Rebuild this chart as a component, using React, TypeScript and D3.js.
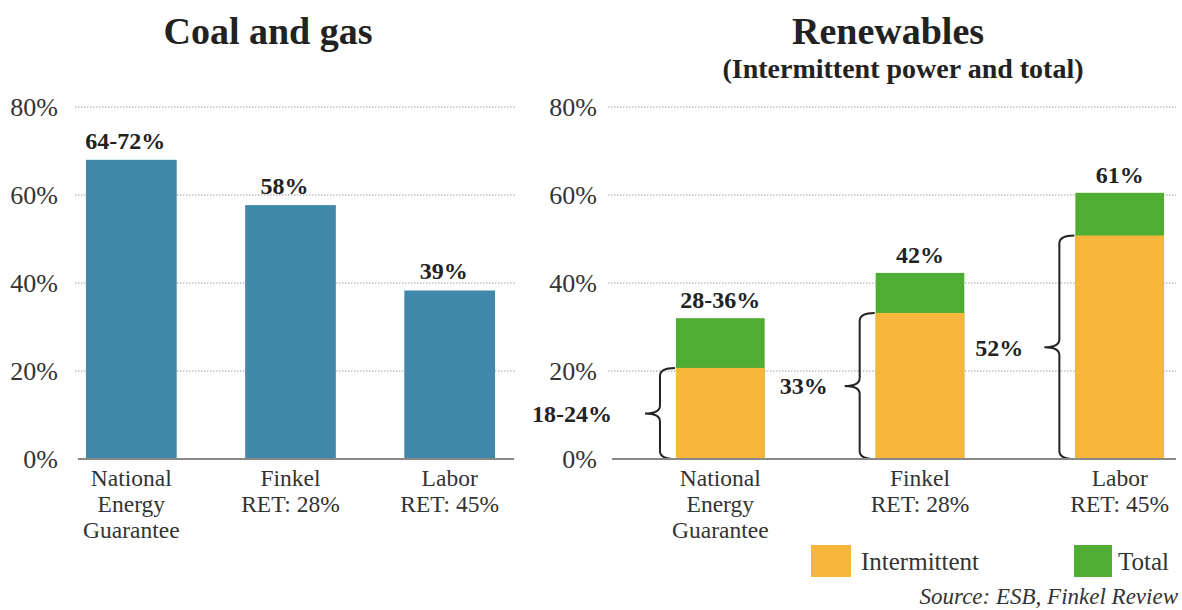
import React from "react";
import * as d3 from "d3";

const categories = ["National Energy Guarantee", "Finkel RET: 28%", "Labor RET: 45%"];
const categoryLines = [["National", "Energy", "Guarantee"], ["Finkel", "RET: 28%"], ["Labor", "RET: 45%"]];
const coalGas = [68, 57.7, 38.3];
const coalGasLabels = ["64-72%", "58%", "39%"];
const renewTotal = [32, 42.3, 60.5];
const renewTotalLabels = ["28-36%", "42%", "61%"];
const renewIntermittent = [20.7, 33.2, 50.8];
const renewIntermittentLabels = ["18-24%", "33%", "52%"];
const yTicks = [0, 20, 40, 60, 80];

const braceLabelGap = [64, 48, 52];

const W = 1182;
const H = 610;
const FONT = "'Liberation Serif', 'Times New Roman', serif";
const BLUE = "#3f88aa";
const YELLOW = "#f8b63a";
const GREEN = "#4fad33";
const TEXT = "#333";

const y = d3.scaleLinear().domain([0, 80]).range([459, 107]);

const xLeft = d3.scaleBand<string>().domain(categories).range([78, 503]).paddingInner(0.43).paddingOuter(0.05);
const xRight = d3.scaleBand<string>().domain(categories).range([660, 1180]).paddingInner(0.556).paddingOuter(0.08);

function bracePath(x: number, yTop: number, yBot: number) {
  const xe = x - 1;
  const xl = x - 16;
  const xp = x - 31;
  const ym = (yTop + yBot) / 2;
  return `M${xe},${yTop} Q${xl},${yTop} ${xl},${yTop + 8} L${xl},${ym - 8} Q${xl},${ym} ${xp},${ym} Q${xl},${ym} ${xl},${ym + 8} L${xl},${yBot - 8} Q${xl},${yBot} ${xe},${yBot}`;
}

function Axis({ x0, x1, labelX }: { x0: number; x1: number; labelX: number }) {
  return (
    <g>
      {yTicks.map((t) => (
        <g key={t}>
          {t > 0 && (
            <line x1={x0} x2={x1} y1={y(t)} y2={y(t)} stroke="#9a9a9a" strokeWidth={1} strokeDasharray="1.5,1.5" />
          )}
          <text x={labelX} y={y(t)} dy="0.35em" textAnchor="end" fontSize={26} fill={TEXT} fontFamily={FONT}>
            {t}%
          </text>
        </g>
      ))}
    </g>
  );
}

function CatLabels({ scale }: { scale: d3.ScaleBand<string> }) {
  return (
    <g>
      {categories.map((c, i) =>
        categoryLines[i].map((ln, j) => (
          <text
            key={c + j}
            x={(scale(c) as number) + scale.bandwidth() / 2}
            y={486 + j * 26}
            textAnchor="middle"
            fontSize={23.5}
            fill={TEXT}
            fontFamily={FONT}
          >
            {ln}
          </text>
        ))
      )}
    </g>
  );
}

export default function App() {
  const bw = xLeft.bandwidth();
  const rbw = xRight.bandwidth();
  return (
    <svg width={W} height={H} style={{ position: "absolute", left: 0, top: 0, background: "#fff" }} fontFamily={FONT}>
      <rect x={0} y={0} width={W} height={H} fill="#fff" />
      {/* Titles */}
      <text x={268} y={44} textAnchor="middle" fontSize={38} fontWeight="bold" fill="#222">
        Coal and gas
      </text>
      <text x={888} y={44} textAnchor="middle" fontSize={38} fontWeight="bold" fill="#222">
        Renewables
      </text>
      <text x={903} y={78} textAnchor="middle" fontSize={28} fontWeight="bold" fill="#222">
        (Intermittent power and total)
      </text>

      {/* Left chart */}
      <Axis x0={75} x1={515} labelX={58} />
      {categories.map((c, i) => (
        <g key={c}>
          <rect x={xLeft(c)} y={y(coalGas[i])} width={bw} height={y(0) - y(coalGas[i])} fill={BLUE} />
          <text
            x={(xLeft(c) as number) + bw / 2 - 6}
            y={y(coalGas[i]) - 11}
            textAnchor="middle"
            fontSize={24}
            fontWeight="bold"
            fill="#222"
          >
            {coalGasLabels[i]}
          </text>
        </g>
      ))}
      <line x1={78} x2={514} y1={y(0)} y2={y(0)} stroke="#888" strokeWidth={2} />
      <CatLabels scale={xLeft} />

      {/* Right chart */}
      <Axis x0={608} x1={1176} labelX={597} />
      {categories.map((c, i) => {
        const x0 = xRight(c) as number;
        const yT = y(renewIntermittent[i]);
        return (
          <g key={c}>
            <rect x={x0} y={y(renewTotal[i])} width={rbw} height={y(0) - y(renewTotal[i])} fill={GREEN} />
            <rect x={x0} y={yT} width={rbw} height={y(0) - yT} fill={YELLOW} />
            <text x={x0 + rbw / 2} y={y(renewTotal[i]) - 10} textAnchor="middle" fontSize={24} fontWeight="bold" fill="#222">
              {renewTotalLabels[i]}
            </text>
            <path d={bracePath(x0, yT, y(0))} fill="none" stroke="#222" strokeWidth={2} />
            <text
              x={x0 - braceLabelGap[i]}
              y={(yT + y(0)) / 2}
              dy="0.35em"
              textAnchor="end"
              fontSize={24}
              fontWeight="bold"
              fill="#222"
            >
              {renewIntermittentLabels[i]}
            </text>
          </g>
        );
      })}
      <line x1={612} x2={1176} y1={y(0)} y2={y(0)} stroke="#888" strokeWidth={2} />
      <CatLabels scale={xRight} />

      {/* Legend */}
      <rect x={811} y={545} width={40} height={32} fill={YELLOW} />
      <text x={861} y={561} dy="0.35em" fontSize={25} fill={TEXT}>
        Intermittent
      </text>
      <rect x={1074} y={545} width={38} height={32} fill={GREEN} />
      <text x={1118} y={561} dy="0.35em" fontSize={25} fill={TEXT}>
        Total
      </text>
      <text x={1178} y={604} textAnchor="end" fontSize={23} fontStyle="italic" fill={TEXT}>
        Source: ESB, Finkel Review
      </text>
    </svg>
  );
}
